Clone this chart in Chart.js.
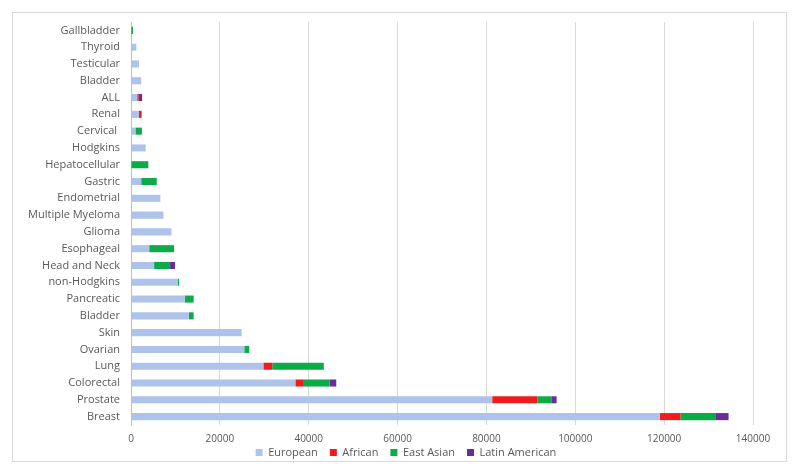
<!DOCTYPE html>
<html>
<head>
<meta charset="utf-8">
<script src="https://cdn.jsdelivr.net/npm/chart.js@4.4.1/dist/chart.umd.min.js"></script>
<style>
html,body{margin:0;padding:0;background:#fff;}
#wrap{width:800px;height:475px;position:relative;}
</style>
</head>
<body>
<div id="wrap"><canvas id="c" width="800" height="475"></canvas></div>
<script>
const categories = ["Gallbladder","Thyroid","Testicular","Bladder","ALL","Renal","Cervical ","Hodgkins","Hepatocellular","Gastric","Endometrial","Multiple Myeloma","Glioma","Esophageal","Head and Neck","non-Hodgkins","Pancreatic","Bladder","Skin","Ovarian","Lung","Colorectal","Prostate","Breast"];
const european      = [0,1200,1800,2300,1400,1800,1000,3300,0,2300,6600,7300,9100,4100,5200,10500,12100,13000,24900,25500,29800,37000,81300,119000];
const african       = [0,0,0,0,300,600,0,0,0,0,0,0,0,0,0,0,0,0,0,0,2000,1900,10200,4700];
const eastAsian     = [450,0,0,0,0,0,1450,0,3900,3500,0,0,0,5600,3600,300,2000,1100,0,1100,11600,5800,3100,7800];
const latinAmerican = [0,0,0,0,800,0,0,0,0,0,0,0,0,0,1100,0,0,0,0,0,0,1500,1200,3000];
const xTickStep = 20000;
const xMax = 140000;

const textColor = '#595959';
const fontFamily = "'Open Sans', 'Liberation Sans', sans-serif";

const frame = {
  id: 'frame',
  afterLayout(chart) {
    // centre the legend under the whole chart and pull it up towards the axis labels
    const l = chart.legend;
    const dx = 23, dy = 12;
    l.left += dx; l.right += dx;
    l.top -= dy; l.bottom -= dy;
  },
  beforeDraw(chart) {
    const ctx = chart.ctx;
    ctx.save();
    ctx.fillStyle = '#fff';
    ctx.fillRect(0, 0, chart.width, chart.height);
    ctx.strokeStyle = '#d9d9d9';
    ctx.lineWidth = 1;
    ctx.strokeRect(12.5, 12.5, 774, 449);
    ctx.restore();
  }
};

new Chart(document.getElementById('c'), {
  type: 'bar',
  data: {
    labels: categories,
    datasets: [
      {label: 'European', data: european, backgroundColor: '#aec3e9'},
      {label: 'African', data: african, backgroundColor: '#ee1c1c'},
      {label: 'East Asian', data: eastAsian, backgroundColor: '#0bab47'},
      {label: 'Latin American', data: latinAmerican, backgroundColor: '#6a2c9a'}
    ]
  },
  options: {
    indexAxis: 'y',
    responsive: false,
    animation: false,
    devicePixelRatio: 1,
    layout: {padding: {left: 13, right: 47, top: 22, bottom: -5}},
    datasets: {bar: {categoryPercentage: 1, barPercentage: 0.42, borderWidth: 0}},
    scales: {
      x: {
        stacked: true,
        min: 0, max: xMax,
        border: {display: false},
        grid: {color: '#d9d9d9', drawTicks: false, lineWidth: 1},
        afterFit: s => { s.height = 22; },
        ticks: {
          stepSize: xTickStep, color: textColor, padding: 8,
          font: {family: fontFamily, size: 10},
          maxRotation: 0,
          callback: v => String(v)
        }
      },
      y: {
        stacked: true,
        border: {display: true, color: '#bfbfbf'},
        grid: {display: false, drawTicks: false},
        afterFit: s => { s.width = 118; },
        ticks: {color: textColor, padding: 11, font: {family: fontFamily, size: 11}, autoSkip: false}
      }
    },
    plugins: {
      legend: {
        position: 'bottom',
        labels: {
          color: textColor, boxWidth: 7, boxHeight: 7, padding: 12,
          font: {family: fontFamily, size: 11}
        }
      },
      tooltip: {enabled: false}
    }
  },
  plugins: [frame]
});
</script>
</body>
</html>
